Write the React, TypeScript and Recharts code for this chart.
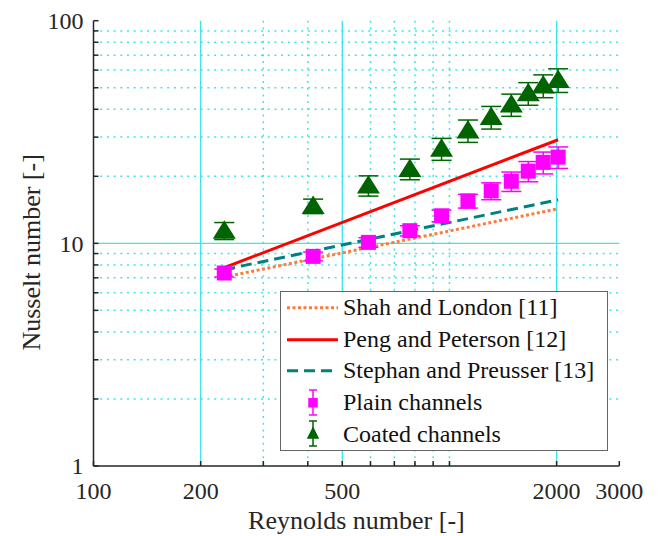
import React from "react";
import {
  ComposedChart,
  Scatter,
  Line,
  XAxis,
  YAxis,
  CartesianGrid,
  ErrorBar,
  Legend,
} from "recharts";

// Reynolds numbers of the measured points (shared by both channel types)
const reynolds = [233, 414, 592, 774, 950, 1127, 1310, 1492, 1665, 1834, 2020];
const plainNu = [7.36, 8.74, 10.1, 11.4, 13.3, 15.5, 17.2, 19.0, 21.1, 23.1, 24.4];
const plainErr = [0.3, 0.4, 0.5, 0.6, 0.8, 1.1, 1.5, 1.9, 2.2, 2.6, 2.7];
const coatedNu = [11.4, 14.7, 18.2, 21.6, 26.6, 32.1, 36.9, 42.0, 47.2, 51.1, 54.2];
const coatedErr = [1.0, 1.1, 1.9, 2.3, 3.0, 3.7, 4.3, 4.8, 5.5, 6.0, 6.6];

// correlations (straight lines on log-log)
const corrRe = [233, 2020];
const shahNu = [7.06, 14.3];
const pengNu = [7.78, 29.2];
const stephanNu = [7.62, 15.7];

const xTicks = [100, 200, 300, 400, 500, 600, 700, 800, 900, 1000, 2000, 3000];
const xLabelled = [100, 200, 500, 2000, 3000];
const xMajorGrid = [200, 500, 2000];
const xMinorGrid = [300, 400, 600, 700, 800, 900, 1000];
const yTicks = [1, 2, 3, 4, 5, 6, 7, 8, 9, 10, 20, 30, 40, 50, 60, 70, 80, 90, 100];
const yLabelled = [1, 10, 100];
const yMajorGrid = [10];
const yMinorGrid = [2, 3, 4, 5, 6, 7, 8, 9, 20, 30, 40, 50, 60, 70, 80, 90];

const FONT = "'Times New Roman', 'Liberation Serif', serif";
const AXIS = "#262626";
const GRID = "#3ce6e6";
const TICK = 5;

const plainData = reynolds.map((re, i) => ({ re, nu: plainNu[i], err: plainErr[i] }));
const coatedData = reynolds.map((re, i) => ({ re, nu: coatedNu[i], err: coatedErr[i] }));
const shahData = corrRe.map((re, i) => ({ re, nu: shahNu[i] }));
const pengData = corrRe.map((re, i) => ({ re, nu: pengNu[i] }));
const stephanData = corrRe.map((re, i) => ({ re, nu: stephanNu[i] }));

const legendItems = [
  { name: "Shah and London [11]", kind: "line", color: "#ff7a3d", dash: "3 2.5" },
  { name: "Peng and Peterson [12]", kind: "line", color: "#ff0000", dash: undefined },
  { name: "Stephan and Preusser [13]", kind: "line", color: "#008080", dash: "11 6" },
  { name: "Plain channels", kind: "square", color: "#ff00ff" },
  { name: "Coated channels", kind: "triangle", color: "#006400" },
];

const BottomTick = (props: any) => {
  const { x, y, payload } = props;
  return (
    <g>
      <line x1={x} x2={x} y1={y} y2={y - TICK} stroke={AXIS} strokeWidth={1.5} />
      {xLabelled.includes(payload.value) && (
        <text x={x} y={y + 33} textAnchor="middle" fontSize={24} fill={AXIS} fontFamily={FONT} style={{ fontFamily: FONT }}>
          {payload.value}
        </text>
      )}
    </g>
  );
};

const TopTick = (props: any) => {
  const { x, y } = props;
  return <line x1={x} x2={x} y1={y} y2={y + TICK} stroke={AXIS} strokeWidth={1.5} />;
};

const LeftTick = (props: any) => {
  const { x, y, payload } = props;
  return (
    <g>
      <line x1={x} x2={x + TICK} y1={y} y2={y} stroke={AXIS} strokeWidth={1.5} />
      {yLabelled.includes(payload.value) && (
        <text x={x - 10} y={y} dy="0.35em" textAnchor="end" fontSize={24} fill={AXIS} fontFamily={FONT} style={{ fontFamily: FONT }}>
          {payload.value}
        </text>
      )}
    </g>
  );
};

const RightTick = (props: any) => {
  const { x, y } = props;
  return <line x1={x} x2={x - TICK} y1={y} y2={y} stroke={AXIS} strokeWidth={1.5} />;
};

const Square = (props: any) => {
  const { cx, cy } = props;
  return <rect x={cx - 7.5} y={cy - 7.5} width={15} height={15} fill="#ff00ff" />;
};

const Triangle = (props: any) => {
  const { cx, cy } = props;
  return <polygon points={`${cx},${cy - 10.5} ${cx - 11.5},${cy + 8} ${cx + 11.5},${cy + 8}`} fill="#006400" />;
};

const LegendBox = () => (
  <div
    style={{
      width: 326,
      height: 158,
      border: "1.5px solid #666",
      background: "#fff",
      fontFamily: FONT,
      fontSize: 24,
      color: "#111",
    }}
  >
    {legendItems.map((it) => (
      <div key={it.name} style={{ height: 31.6, display: "flex", alignItems: "center", fontFamily: FONT }}>
        <svg width={62} height={31.6} style={{ flex: "none" }}>
          {it.kind === "line" && (
            <line x1={6} x2={57} y1={15.8} y2={15.8} stroke={it.color} strokeWidth={3} strokeDasharray={it.dash} />
          )}
          {it.kind === "square" && (
            <g stroke={it.color} strokeWidth={1.5}>
              <line x1={32} x2={32} y1={3} y2={28} />
              <line x1={28} x2={36} y1={3} y2={3} />
              <line x1={28} x2={36} y1={28} y2={28} />
              <rect x={28} y={11.8} width={8} height={8} fill={it.color} />
            </g>
          )}
          {it.kind === "triangle" && (
            <g stroke={it.color} strokeWidth={1.5}>
              <line x1={32} x2={32} y1={3} y2={28} />
              <line x1={28} x2={36} y1={3} y2={3} />
              <line x1={28} x2={36} y1={28} y2={28} />
              <polygon points="32,10 27,20 37,20" fill={it.color} />
            </g>
          )}
        </svg>
        <span style={{ whiteSpace: "nowrap", fontFamily: FONT }}>{it.name}</span>
      </div>
    ))}
  </div>
);

export default function App() {
  return (
    <div style={{ width: 652, height: 528, fontFamily: FONT }}>
      <ComposedChart
        width={652}
        height={528}
        margin={{ top: 12.7, right: 40.7, bottom: 0, left: 0 }}
        style={{ fontFamily: FONT }}
      >
        <CartesianGrid
          fill="none"
          stroke={GRID}
          strokeWidth={1.5}
          strokeDasharray="2 4.7"
          horizontalValues={yMinorGrid}
          verticalValues={xMinorGrid}
        />
        <CartesianGrid
          fill="none"
          stroke={GRID}
          strokeWidth={1.3}
          horizontalValues={yMajorGrid}
          verticalValues={xMajorGrid}
        />
        <XAxis
          dataKey="re"
          type="number"
          scale="log"
          domain={[100, 3000]}
          ticks={xTicks}
          interval={0}
          allowDataOverflow
          height={70}
          tickSize={0}
          tickMargin={0}
          tickLine={false}
          tick={<BottomTick />}
          axisLine={{ stroke: AXIS, strokeWidth: 1.5 }}
          label={{
            value: "Reynolds number [-]",
            position: "insideBottom",
            offset: 7,
            fontSize: 26,
            fill: AXIS,
            fontFamily: FONT,
            style: { fontFamily: FONT },
          }}
        />
        <XAxis
          xAxisId="top"
          orientation="top"
          dataKey="re"
          type="number"
          scale="log"
          domain={[100, 3000]}
          ticks={xTicks}
          interval={0}
          allowDataOverflow
          height={0}
          tickSize={0}
          tickMargin={0}
          tickLine={false}
          tick={<TopTick />}
          axisLine={{ stroke: AXIS, strokeWidth: 1.5 }}
        />
        <YAxis
          dataKey="nu"
          type="number"
          scale="log"
          domain={[1, 100]}
          ticks={yTicks}
          interval={0}
          allowDataOverflow
          width={85.5}
          tickSize={0}
          tickMargin={0}
          tickLine={false}
          tick={<LeftTick />}
          axisLine={{ stroke: AXIS, strokeWidth: 1.5 }}
          label={{
            value: "Nusselt number [-]",
            angle: -90,
            position: "insideLeft",
            offset: 23,
            dy: 9,
            fontSize: 26,
            fill: AXIS,
            fontFamily: FONT,
            style: { textAnchor: "middle", fontFamily: FONT },
          }}
        />
        <YAxis
          yAxisId="right"
          orientation="right"
          dataKey="nu"
          type="number"
          scale="log"
          domain={[1, 100]}
          ticks={yTicks}
          interval={0}
          allowDataOverflow
          width={0}
          tickSize={0}
          tickMargin={0}
          tickLine={false}
          tick={<RightTick />}
          axisLine={{ stroke: AXIS, strokeWidth: 1.5 }}
        />
        <Line data={shahData} dataKey="nu" stroke="#ff7a3d" strokeWidth={3} strokeDasharray="3 2.5" dot={false} isAnimationActive={false} />
        <Line data={pengData} dataKey="nu" stroke="#ff0000" strokeWidth={3} dot={false} isAnimationActive={false} />
        <Line data={stephanData} dataKey="nu" stroke="#008080" strokeWidth={3} strokeDasharray="11 6" dot={false} isAnimationActive={false} />
        <Scatter data={plainData} dataKey="nu" fill="#ff00ff" shape={<Square />} isAnimationActive={false}>
          <ErrorBar dataKey="err" direction="y" width={10} stroke="#ff00ff" strokeWidth={1.5} isAnimationActive={false} />
        </Scatter>
        <Scatter data={coatedData} dataKey="nu" fill="#006400" shape={<Triangle />} isAnimationActive={false}>
          <ErrorBar dataKey="err" direction="y" width={10} stroke="#006400" strokeWidth={1.5} isAnimationActive={false} />
        </Scatter>
        <Legend
          layout="vertical"
          align="center"
          verticalAlign="middle"
          content={<LegendBox />}
          wrapperStyle={{ left: 272, top: 283, width: 330, height: 162 }}
        />
      </ComposedChart>
    </div>
  );
}
